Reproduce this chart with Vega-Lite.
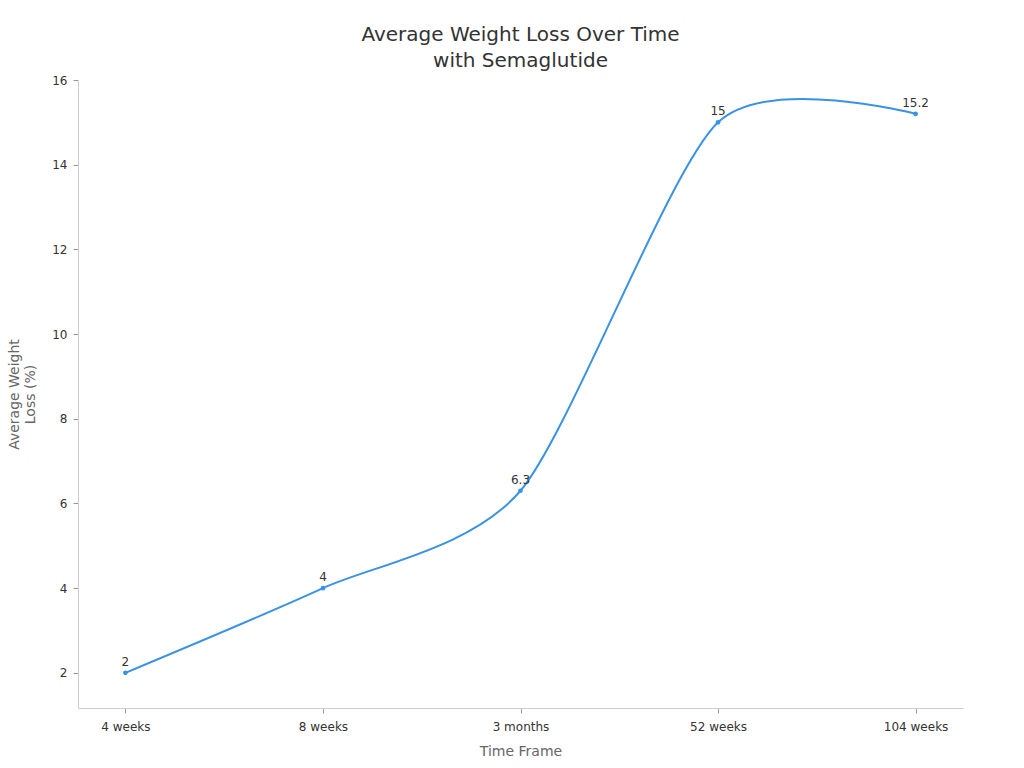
{
  "$schema": "https://vega.github.io/schema/vega-lite/v6.json",
  "width": 885,
  "height": 628,
  "autosize": "none",
  "padding": {"left": 78, "top": 80, "right": 61, "bottom": 60},
  "background": "white",
  "title": {
    "text": ["Average Weight Loss Over Time", "with Semaglutide"],
    "font": "DejaVu Sans",
    "fontSize": 20,
    "fontWeight": "normal",
    "color": "#333333",
    "lineHeight": 26,
    "offset": 3,
    "anchor": "middle"
  },
  "config": {
    "view": {"stroke": null},
    "font": "DejaVu Sans",
    "axis": {
      "domainColor": "#cccccc",
      "tickColor": "#999999",
      "grid": false,
      "labelFont": "DejaVu Sans",
      "labelFontSize": 12,
      "labelColor": "#333333",
      "titleFont": "DejaVu Sans",
      "titleFontSize": 14,
      "titleFontWeight": "normal",
      "titleColor": "#666666"
    }
  },
  "data": {
    "values": [
      {"time": "4 weeks", "loss": 2},
      {"time": "8 weeks", "loss": 4},
      {"time": "3 months", "loss": 6.3},
      {"time": "52 weeks", "loss": 15},
      {"time": "104 weeks", "loss": 15.2}
    ]
  },
  "encoding": {
    "x": {
      "field": "time",
      "type": "ordinal",
      "sort": null,
      "scale": {"type": "point", "padding": 0.24},
      "axis": {"title": "Time Frame", "labelAngle": 0, "labelPadding": 8, "titlePadding": 12, "tickSize": 5}
    },
    "y": {
      "field": "loss",
      "type": "quantitative",
      "scale": {"domain": [1.17, 16], "nice": false, "zero": false},
      "axis": {"title": ["Average Weight", "Loss (%)"], "values": [2, 4, 6, 8, 10, 12, 14, 16], "tickSize": 5, "labelPadding": 6, "titlePadding": 14}
    }
  },
  "layer": [
    {"mark": {"type": "line", "interpolate": "cardinal", "tension": 0.25, "color": "#3a92e3", "strokeWidth": 2}},
    {"mark": {"type": "circle", "color": "#3a92e3", "size": 22, "opacity": 1}},
    {"mark": {"type": "text", "dy": -11, "fontSize": 12, "color": "#333333"}, "encoding": {"text": {"field": "loss", "type": "quantitative"}}}
  ]
}
